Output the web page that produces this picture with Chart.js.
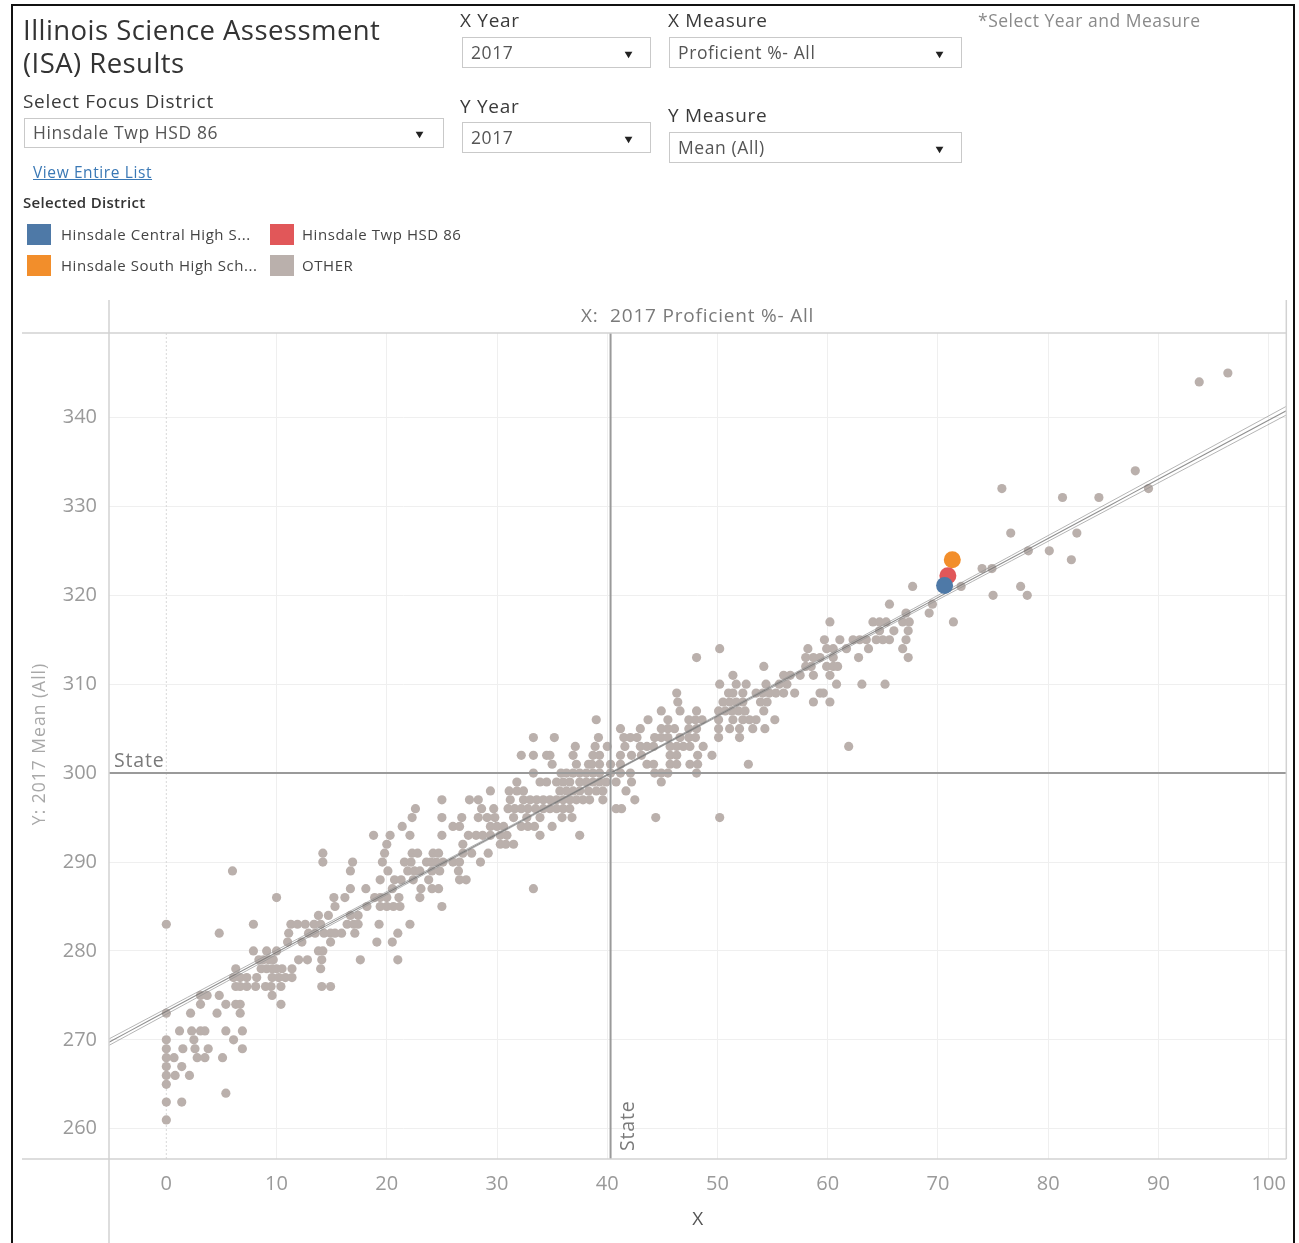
<!DOCTYPE html>
<html>
<head>
<meta charset="utf-8">
<script src="https://cdn.jsdelivr.net/npm/chart.js@4.4.1/dist/chart.umd.min.js"></script>
<style>
  html,body{margin:0;padding:0;background:#fff;}
  #wrap{position:relative;width:1299px;height:1243px;overflow:hidden;font-family:"Open Sans","Noto Sans",sans-serif;}
  #frame{position:absolute;left:11px;top:4px;width:1284px;height:1300px;border:2px solid #111;box-sizing:border-box;}
  #chart{position:absolute;left:0;top:0;}
  .t{position:absolute;white-space:nowrap;color:#333;line-height:1;}
  .h{font-size:19px;letter-spacing:0.7px;color:#3a3a3a;}
  .dd{position:absolute;border:1px solid #c9c9c9;box-sizing:border-box;background:#fff;color:#555;font-size:17.5px;letter-spacing:0.6px;white-space:nowrap;}
  .dd span{position:absolute;left:8px;top:50%;transform:translateY(-53%);}
  .dd i{position:absolute;right:16px;top:50%;transform:translateY(-50%) scaleX(1.2);font-style:normal;font-size:11px;color:#222;letter-spacing:0;}
  .sw{position:absolute;width:24px;height:21px;}
</style>
</head>
<body>
<div id="wrap">
  <canvas id="chart" width="1299" height="1243"></canvas>
  <div id="frame"></div>
  <div class="t" style="left:23px;top:13px;font-size:27.5px;letter-spacing:0.45px;color:#333;line-height:33px;">Illinois Science Assessment<br>(ISA) Results</div>

  <div class="t h" style="left:460px;top:11px;">X Year</div>
  <div class="dd" style="left:462px;top:37px;width:189px;height:31px;"><span>2017</span><i>▼</i></div>
  <div class="t h" style="left:460px;top:97px;">Y Year</div>
  <div class="dd" style="left:462px;top:122px;width:189px;height:31px;"><span>2017</span><i>▼</i></div>

  <div class="t h" style="left:668px;top:11px;">X Measure</div>
  <div class="dd" style="left:669px;top:37px;width:293px;height:31px;"><span>Proficient %- All</span><i>▼</i></div>
  <div class="t h" style="left:668px;top:106px;">Y Measure</div>
  <div class="dd" style="left:669px;top:132px;width:293px;height:31px;"><span>Mean (All)</span><i>▼</i></div>

  <div class="t" style="left:978px;top:12px;font-size:17.5px;letter-spacing:0.5px;color:#8a8a8a;">*Select Year and Measure</div>

  <div class="t h" style="left:23px;top:92px;">Select Focus District</div>
  <div class="dd" style="left:24px;top:118px;width:420px;height:30px;"><span>Hinsdale Twp HSD 86</span><i style="right:18px">▼</i></div>

  <div class="t" style="left:33px;top:165px;font-size:15.5px;letter-spacing:0.6px;color:#3a78b5;text-decoration:underline;">View Entire List</div>
  <div class="t" style="left:23px;top:195px;font-size:15px;letter-spacing:0.3px;color:#333;font-weight:600;">Selected District</div>
  <div id="legend"></div>
</div>

<script>
// ---------- DATA ----------
const xTitle = "X:  2017 Proficient %- All";
const yTitle = "Y: 2017 Mean (All)";
const xAxisLabel = "X";
const xTicks = [0, 10, 20, 30, 40, 50, 60, 70, 80, 90, 100];
const yTicks = [260, 270, 280, 290, 300, 310, 320, 330, 340];
const xRange = [-5.2, 101.6];
const yRange = [256.6, 349.5];
const stateProficient = 40.3;   // state reference line (x)
const stateMean = 300;          // state reference line (y)
// linear trend line as shown (intercept, slope) and its confidence band half-widths
const trendIntercept = 273.2;
const trendSlope = 0.665;
const bandMinHalfWidth = 0.08;     // near the centre of the data
const bandGrowth = 0.0078;         // growth per unit of distance from the centre
const bandCentre = 40;

// Selected district + its schools
const focusNames = ["Hinsdale Central High S...", "Hinsdale Twp HSD 86", "Hinsdale South High Sch..."];
const focusColors = ["#4e79a7", "#e15759", "#f28e2b"];
const focusProficient = [70.6, 70.9, 71.3];
const focusMean = [321.1, 322.2, 324.0];

const otherName = "OTHER";
const otherColor = "#bab0ac";
// Other districts/schools: mean score level and the proficient % of each mark at that level
const otherMeanLevels = [
  345, 344, 334, 332, 331, 327, 325, 324, 323, 321, 320, 319, 318, 317, 316, 315, 314, 313, 312, 311,
  310, 309, 308, 307, 306, 305, 304, 303, 302, 301, 300, 299, 298, 297, 296, 295, 294, 293, 292, 291,
  290, 289, 288, 287, 286, 285, 284, 283, 282, 281, 280, 279, 278, 277, 276, 275, 274, 273, 271, 270,
  269, 268, 267, 266, 265, 264, 263, 261
];
const otherProficientAtLevel = [
  [96.3], [93.7], [87.9], [75.8, 89.1], [81.3, 84.6], [76.6, 82.6], [78.2, 80.1], [82.1], [74.0, 74.9],
  [67.7, 72.1, 77.5], [75.0, 78.1], [65.6, 69.5], [67.1, 69.2],
  [60.2, 64.1, 64.7, 65.3, 66.8, 67.4, 71.4],
  [64.7, 66.0, 67.3],
  [59.7, 61.1, 62.3, 62.9, 63.5, 64.4, 65.0, 65.6, 67.1],
  [50.2, 58.2, 59.9, 60.5, 61.7, 63.7, 66.8],
  [48.1, 58.0, 58.7, 59.3, 60.5, 62.8, 67.3],
  [54.2, 58.0, 58.5, 59.9, 60.5, 60.9],
  [51.4, 56.0, 56.6, 57.5, 58.7, 60.2],
  [50.2, 51.7, 52.6, 54.4, 55.6, 56.3, 60.8, 63.1, 65.2],
  [46.3, 51.0, 51.4, 52.3, 53.5, 54.1, 54.7, 55.3, 56.0, 57.0, 59.3, 59.6],
  [46.4, 50.5, 51.1, 51.7, 52.3, 53.9, 54.5, 58.7, 60.2],
  [44.9, 46.6, 48.1, 50.1, 50.7, 51.3, 51.9, 52.5, 54.2],
  [39.0, 43.7, 45.5, 47.4, 48.0, 48.6, 50.1, 51.4, 52.3, 52.9, 53.5, 55.2],
  [41.2, 43.0, 44.9, 45.5, 46.1, 47.4, 48.1, 50.1, 51.1, 52.0, 53.2, 54.3],
  [33.3, 35.2, 39.2, 41.5, 42.1, 42.7, 44.3, 44.9, 45.5, 46.6, 47.4, 48.0, 50.1, 52.0],
  [37.1, 38.9, 40.0, 41.6, 43.0, 43.6, 44.2, 45.7, 46.3, 46.9, 47.5, 48.7, 61.9],
  [32.2, 33.3, 34.5, 34.8, 36.9, 38.7, 39.3, 41.2, 42.2, 43.1, 45.7, 46.3, 48.2, 49.5],
  [35.0, 37.2, 38.3, 38.6, 39.3, 40.3, 41.2, 43.6, 44.2, 45.7, 46.3, 47.5, 48.2, 52.8],
  [33.3, 35.8, 36.3, 36.9, 37.5, 38.1, 38.7, 39.3, 40.3, 41.2, 42.1, 44.3, 44.9, 45.5, 48.1],
  [31.8, 33.9, 34.5, 35.4, 36.0, 36.6, 37.5, 38.1, 38.7, 39.3, 39.9, 40.8, 42.2, 44.9],
  [29.4, 31.1, 31.8, 32.4, 35.7, 36.3, 36.9, 37.5, 38.3, 39.0, 39.6, 41.7],
  [25.0, 27.5, 28.3, 31.2, 32.4, 33.0, 33.6, 34.2, 34.8, 35.4, 36.0, 36.6, 37.2, 37.8, 38.4, 39.6, 42.5],
  [22.6, 28.6, 29.7, 31.0, 31.6, 32.2, 32.8, 33.5, 34.2, 34.8, 35.4, 36.0, 36.6, 40.8, 41.3],
  [22.3, 25.0, 26.8, 28.3, 29.1, 29.8, 31.5, 32.7, 33.9, 35.9, 36.8, 44.4, 50.2],
  [21.4, 26.0, 26.6, 29.4, 30.0, 30.6, 32.2, 32.8, 33.4, 35.0],
  [18.8, 20.3, 22.1, 25.0, 27.4, 28.1, 28.7, 29.4, 30.3, 30.9, 33.9, 37.5],
  [20.0, 26.9, 30.3, 30.8, 31.5],
  [14.2, 19.8, 22.3, 22.8, 24.2, 24.7, 26.9, 27.7, 29.2],
  [14.2, 16.9, 19.6, 21.6, 22.2, 23.6, 24.0, 24.5, 25.1, 26.0, 26.6, 28.5],
  [6.0, 16.7, 20.1, 21.9, 22.5, 23.0, 24.1, 24.8, 26.5],
  [19.4, 20.7, 21.3, 22.4, 23.8, 26.6, 27.2],
  [16.7, 18.1, 20.5, 23.1, 24.1, 24.7, 33.3],
  [10.0, 15.2, 16.2, 18.9, 19.4, 20.0, 21.1, 23.0],
  [15.3, 18.2, 19.4, 20.0, 20.6, 21.2, 25.0],
  [13.8, 14.7, 16.7, 17.4],
  [0.0, 7.9, 11.3, 11.9, 12.6, 13.4, 14.0, 16.4, 17.0, 17.4, 19.3, 22.1],
  [4.8, 11.1, 12.9, 13.5, 14.3, 14.9, 15.3, 15.9, 17.1, 21.0],
  [11.0, 12.3, 14.9, 19.1, 20.5],
  [7.9, 9.1, 10.0, 13.8, 14.2],
  [8.4, 8.8, 9.3, 9.7, 12.0, 12.8, 14.1, 17.6, 21.0],
  [6.3, 8.6, 9.1, 9.6, 10.0, 10.5, 11.4, 14.0],
  [6.1, 6.7, 7.3, 8.2, 9.6, 10.2, 10.8, 11.4],
  [6.3, 6.7, 7.3, 8.1, 9.0, 9.5, 10.4, 14.1, 14.9],
  [3.1, 3.7, 4.8, 9.6],
  [3.1, 5.4, 6.3, 6.7, 10.4],
  [0.0, 2.2, 4.6, 6.7],
  [1.2, 2.3, 3.1, 3.5, 5.4, 6.9],
  [0.0, 2.5, 6.1],
  [0.0, 1.5, 2.6, 3.8, 6.9],
  [0.0, 0.7, 2.8, 3.5, 5.1],
  [0.0, 1.4],
  [0.0, 0.8, 2.1],
  [0.0],
  [5.4],
  [0.0, 1.4],
  [0.0]
];

// ---------- BUILD ----------
const otherPoints = [];
otherMeanLevels.forEach((m, i) => otherProficientAtLevel[i].forEach(p => otherPoints.push({x: p, y: m})));
const focusPoints = focusNames.map((n, i) => [{x: focusProficient[i], y: focusMean[i]}]);

const trendAt = x => trendIntercept + trendSlope * x;
const bandAt = x => Math.sqrt(bandMinHalfWidth ** 2 + (bandGrowth * (x - bandCentre)) ** 2);

// legend (HTML, Tableau style)
const legendItems = [
  {name: focusNames[0], color: focusColors[0]}, {name: focusNames[1], color: focusColors[1]},
  {name: focusNames[2], color: focusColors[2]}, {name: otherName, color: otherColor}
];
const legEl = document.getElementById('legend');
legendItems.forEach((it, i) => {
  const col = i % 2, row = Math.floor(i / 2);
  const left = col === 0 ? 27 : 270, top = 224 + row * 31;
  legEl.insertAdjacentHTML('beforeend',
    `<div class="sw" style="left:${left}px;top:${top}px;background:${it.color}"></div>` +
    `<div class="t" style="left:${left + (col === 0 ? 34 : 32)}px;top:${top + 3}px;font-size:15px;color:#444;letter-spacing:0.55px">${it.name}</div>`);
});

Chart.defaults.font.family = "'Open Sans','Noto Sans',sans-serif";

const setLS = (ctx, v) => { if ('letterSpacing' in ctx) ctx.letterSpacing = v; };

const framePlugin = {
  id: 'tableauFrame',
  afterDatasetDraw(chart, args) {
    if (args.meta.label !== otherName) return;
    const {ctx, chartArea: a, scales: {x, y}} = chart;
    ctx.save();
    ctx.beginPath(); ctx.rect(a.left, a.top, a.right - a.left, a.bottom - a.top); ctx.clip();
    const x0 = x.min, x1 = x.max, steps = 60;
    const drawCurve = (f, color, w) => {
      ctx.beginPath();
      for (let i = 0; i <= steps; i++) {
        const xv = x0 + (x1 - x0) * i / steps;
        const px = x.getPixelForValue(xv), py = y.getPixelForValue(f(xv));
        i ? ctx.lineTo(px, py) : ctx.moveTo(px, py);
      }
      ctx.strokeStyle = color; ctx.lineWidth = w; ctx.stroke();
    };
    drawCurve(v => trendAt(v) + bandAt(v), 'rgba(150,150,150,0.7)', 1);
    drawCurve(v => trendAt(v) - bandAt(v), 'rgba(150,150,150,0.7)', 1);
    drawCurve(trendAt, 'rgba(115,115,115,0.8)', 1.1);
    ctx.strokeStyle = '#9a9a9a'; ctx.lineWidth = 2;
    const sy = y.getPixelForValue(stateMean), sx = x.getPixelForValue(stateProficient);
    ctx.beginPath(); ctx.moveTo(a.left, sy); ctx.lineTo(a.right, sy); ctx.stroke();
    ctx.beginPath(); ctx.moveTo(sx, a.top); ctx.lineTo(sx, a.bottom); ctx.stroke();
    ctx.restore();
  },
  beforeDatasetsDraw(chart) {
    const {ctx, chartArea: a, scales: {x}} = chart;
    const zx = x.getPixelForValue(0);
    ctx.save();
    ctx.strokeStyle = '#d8d8d8'; ctx.lineWidth = 1; ctx.setLineDash([2, 2]);
    ctx.beginPath(); ctx.moveTo(zx, a.top); ctx.lineTo(zx, a.bottom); ctx.stroke();
    ctx.restore();
  },
  afterDraw(chart) {
    const {ctx, chartArea: a, scales: {x, y}} = chart;
    ctx.save();
    ctx.strokeStyle = '#d2d2d2'; ctx.lineWidth = 1.5;
    ctx.beginPath();
    ctx.moveTo(22, a.top); ctx.lineTo(a.right, a.top);
    ctx.moveTo(22, a.bottom); ctx.lineTo(a.right, a.bottom);
    ctx.moveTo(a.left, a.top - 33); ctx.lineTo(a.left, chart.height);
    ctx.moveTo(a.right, a.top - 33); ctx.lineTo(a.right, a.bottom);
    ctx.stroke();
    ctx.textAlign = 'center'; ctx.textBaseline = 'middle';
    ctx.fillStyle = '#7a7a7a'; ctx.font = "19px 'Open Sans'"; setLS(ctx, '0.8px');
    ctx.fillText(xTitle, (a.left + a.right) / 2, a.top - 16);
    ctx.fillStyle = '#555'; ctx.font = "19px 'Open Sans'"; setLS(ctx, '0px');
    ctx.fillText(xAxisLabel, (a.left + a.right) / 2, a.bottom + 61);
    ctx.save();
    ctx.translate(40, (a.top + a.bottom) / 2 - 2); ctx.rotate(-Math.PI / 2);
    ctx.fillStyle = '#a8a8a8'; ctx.font = "17.5px 'Open Sans'"; setLS(ctx, '1px');
    ctx.fillText(yTitle, 0, 0);
    ctx.restore();
    ctx.fillStyle = '#7a7a7a'; ctx.font = "19.5px 'Open Sans'"; setLS(ctx, '0.8px');
    ctx.textAlign = 'left'; ctx.textBaseline = 'alphabetic';
    ctx.fillText('State', a.left + 5, y.getPixelForValue(stateMean) - 6);
    ctx.save();
    ctx.translate(x.getPixelForValue(stateProficient) + 23, a.bottom - 8); ctx.rotate(-Math.PI / 2);
    ctx.fillText('State', 0, 0);
    ctx.restore();
    ctx.restore();
  }
};

const useTicks = list => scale => { scale.ticks = list.map(v => ({value: v})); };

new Chart(document.getElementById('chart'), {
  type: 'scatter',
  data: {
    datasets: [
      ...focusNames.map((nm, i) => ({
        label: nm, data: focusPoints[i], backgroundColor: focusColors[i], borderWidth: 0,
        pointRadius: 8.5, pointHoverRadius: 8.5, order: [0, 1, 2][i]
      })),
      {label: otherName, data: otherPoints, backgroundColor: otherColor, borderWidth: 0,
       pointRadius: 4.6, pointHoverRadius: 4.6, order: 10}
    ]
  },
  options: {
    responsive: false, animation: false, devicePixelRatio: 1,
    layout: {padding: {top: 333, right: 12, left: 0, bottom: 0}},
    plugins: {legend: {display: false}, tooltip: {enabled: false}},
    scales: {
      x: {
        type: 'linear', min: xRange[0], max: xRange[1],
        ticks: {padding: 13, color: '#9a9a9a', font: {size: 20}, maxRotation: 0, autoSkip: false},
        afterBuildTicks: useTicks(xTicks),
        afterFit: s => { s.height = 84; },
        grid: {color: ctx => ctx.tick && ctx.tick.value === 0 ? 'rgba(0,0,0,0)' : '#efefef', drawTicks: false, lineWidth: 1},
        border: {display: false}
      },
      y: {
        type: 'linear', min: yRange[0], max: yRange[1],
        ticks: {padding: 12, color: '#9a9a9a', font: {size: 20}, autoSkip: false},
        afterBuildTicks: useTicks(yTicks),
        afterFit: s => { s.width = 109; },
        grid: {color: '#efefef', drawTicks: false, lineWidth: 1},
        border: {display: false}
      }
    }
  },
  plugins: [framePlugin]
});
</script>
</body>
</html>
